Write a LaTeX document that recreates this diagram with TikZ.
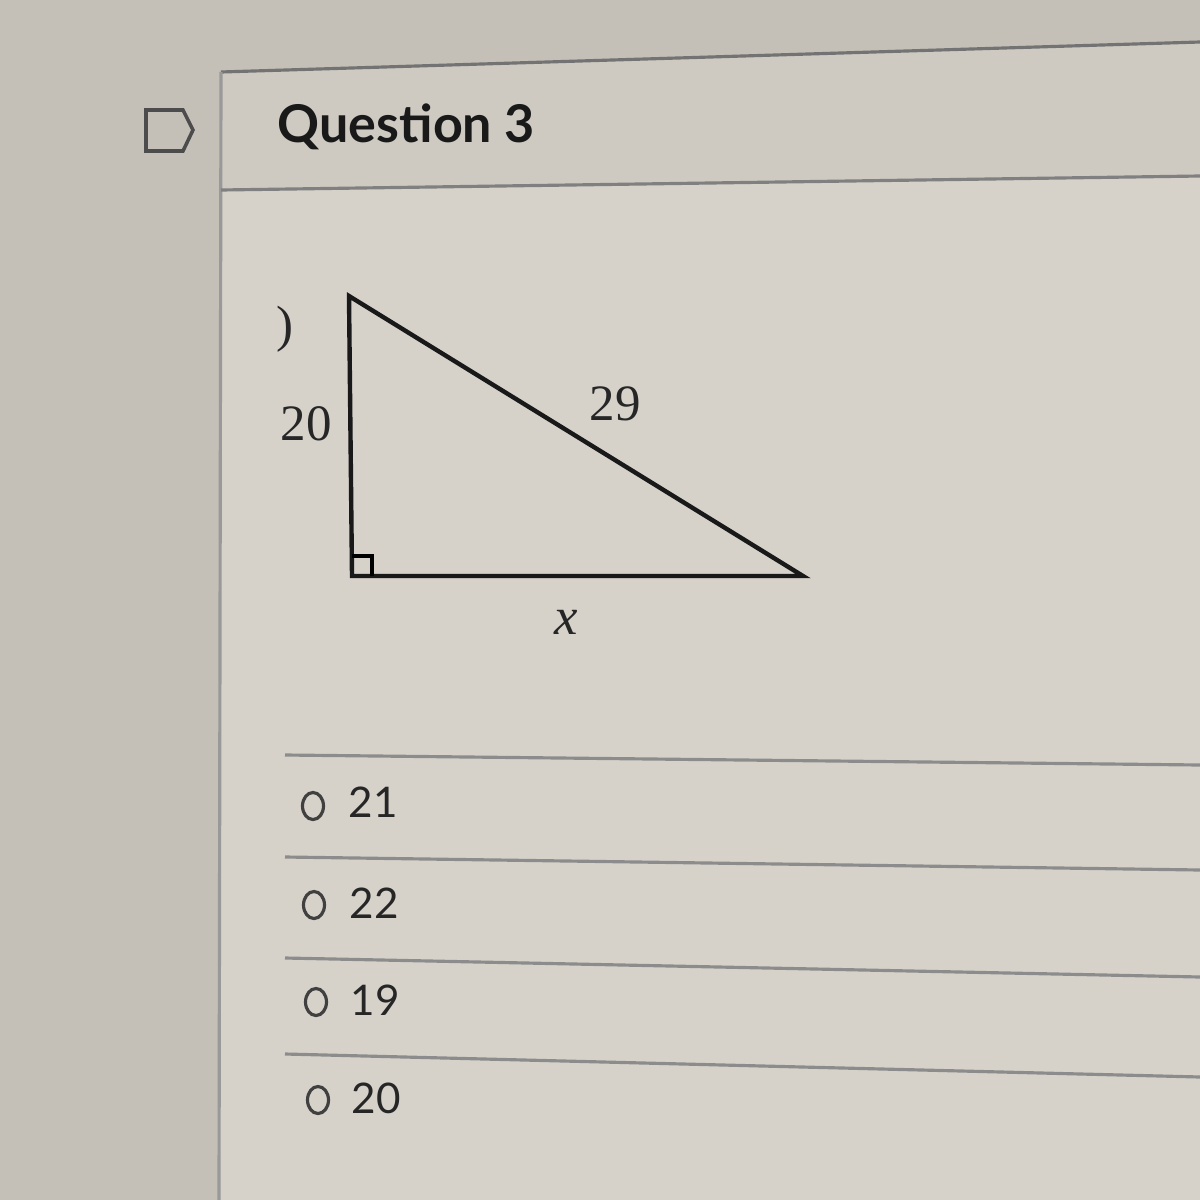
\documentclass[tikz,border=0pt]{standalone}
\usepackage{fontspec}
\usetikzlibrary{shapes.geometric}
\setmainfont{Lato}
\newfontfamily\serifx{Liberation Serif}
\begin{document}
\begin{tikzpicture}[x=0.01cm,y=-0.01cm,
  edge/.style={line width=1.25pt,draw=black!90},
  rule/.style={draw=black!45,line width=0.9pt},
  radio/.style={draw=black!75,line width=0.9pt,ellipse,inner sep=0pt,minimum width=0.21cm,minimum height=0.27cm},
  opt/.style={anchor=west,font=\fontsize{12}{14}\selectfont,text=black!85,inner sep=0pt},
  lab/.style={font=\serifx\fontsize{14.5}{16}\selectfont,text=black!85,inner sep=0pt}]
% background
\fill[fill={rgb,255:red,196;green,191;blue,183}] (0,0) rectangle (1200,1200);
\useasboundingbox (0,0) rectangle (1200,1200);
% panel
\fill[fill={rgb,255:red,214;green,210;blue,202}] (221,72) -- (1200,42) -- (1200,1200) -- (219,1200) -- cycle;
\fill[fill={rgb,255:red,206;green,202;blue,194}] (221,72) -- (1200,42) -- (1200,176) -- (221,190) -- cycle;
\draw[rule,draw=black!55] (221,72) -- (1200,42);
\draw[rule,draw=black!40] (221,72) -- (219,1200);
\draw[rule,draw=black!50] (221,190) -- (1200,176);
% flag icon
\draw[draw=black!70,line width=1pt] (146,110) -- (183,110) -- (193,130) -- (183,151) -- (146,151) -- cycle;
\node[anchor=base west,inner sep=0pt,font=\fontsize{14.8}{18}\selectfont\bfseries,text=black!90] (title) at (277,142) {Question 3};
% triangle
\coordinate (A) at (349,296);
\coordinate (C) at (352,576);
\coordinate (B) at (803,576);
\draw[edge,line join=miter] (A) -- (C) -- (B) -- cycle;
\draw[line width=0.9pt] (352,556) -- (372,556) -- (372,576);
\node[lab] (paren) at (285,329) {)};
\node[lab] (l20) at (306,424) {20};
\node[lab] (l29) at (615,404) {29};
\node[lab,font=\serifx\itshape\fontsize{15}{16}\selectfont] (lx) at (566,622) {x};
% option rules
\draw[rule] (285,755) -- (1200,765);
\draw[rule] (285,857) -- (1200,870);
\draw[rule] (285,958) -- (1200,977);
\draw[rule] (285,1054) -- (1200,1077);
% options
\node[radio] (r1) at (313,806) {};
\node[radio] (r2) at (314,905) {};
\node[radio] (r3) at (316,1002) {};
\node[radio] (r4) at (318,1100) {};
\node[opt] (o1) at (348,802) {21};
\node[opt] (o2) at (349,903) {22};
\node[opt] (o3) at (350,1000) {19};
\node[opt] (o4) at (351,1098) {20};
\end{tikzpicture}
\end{document}
